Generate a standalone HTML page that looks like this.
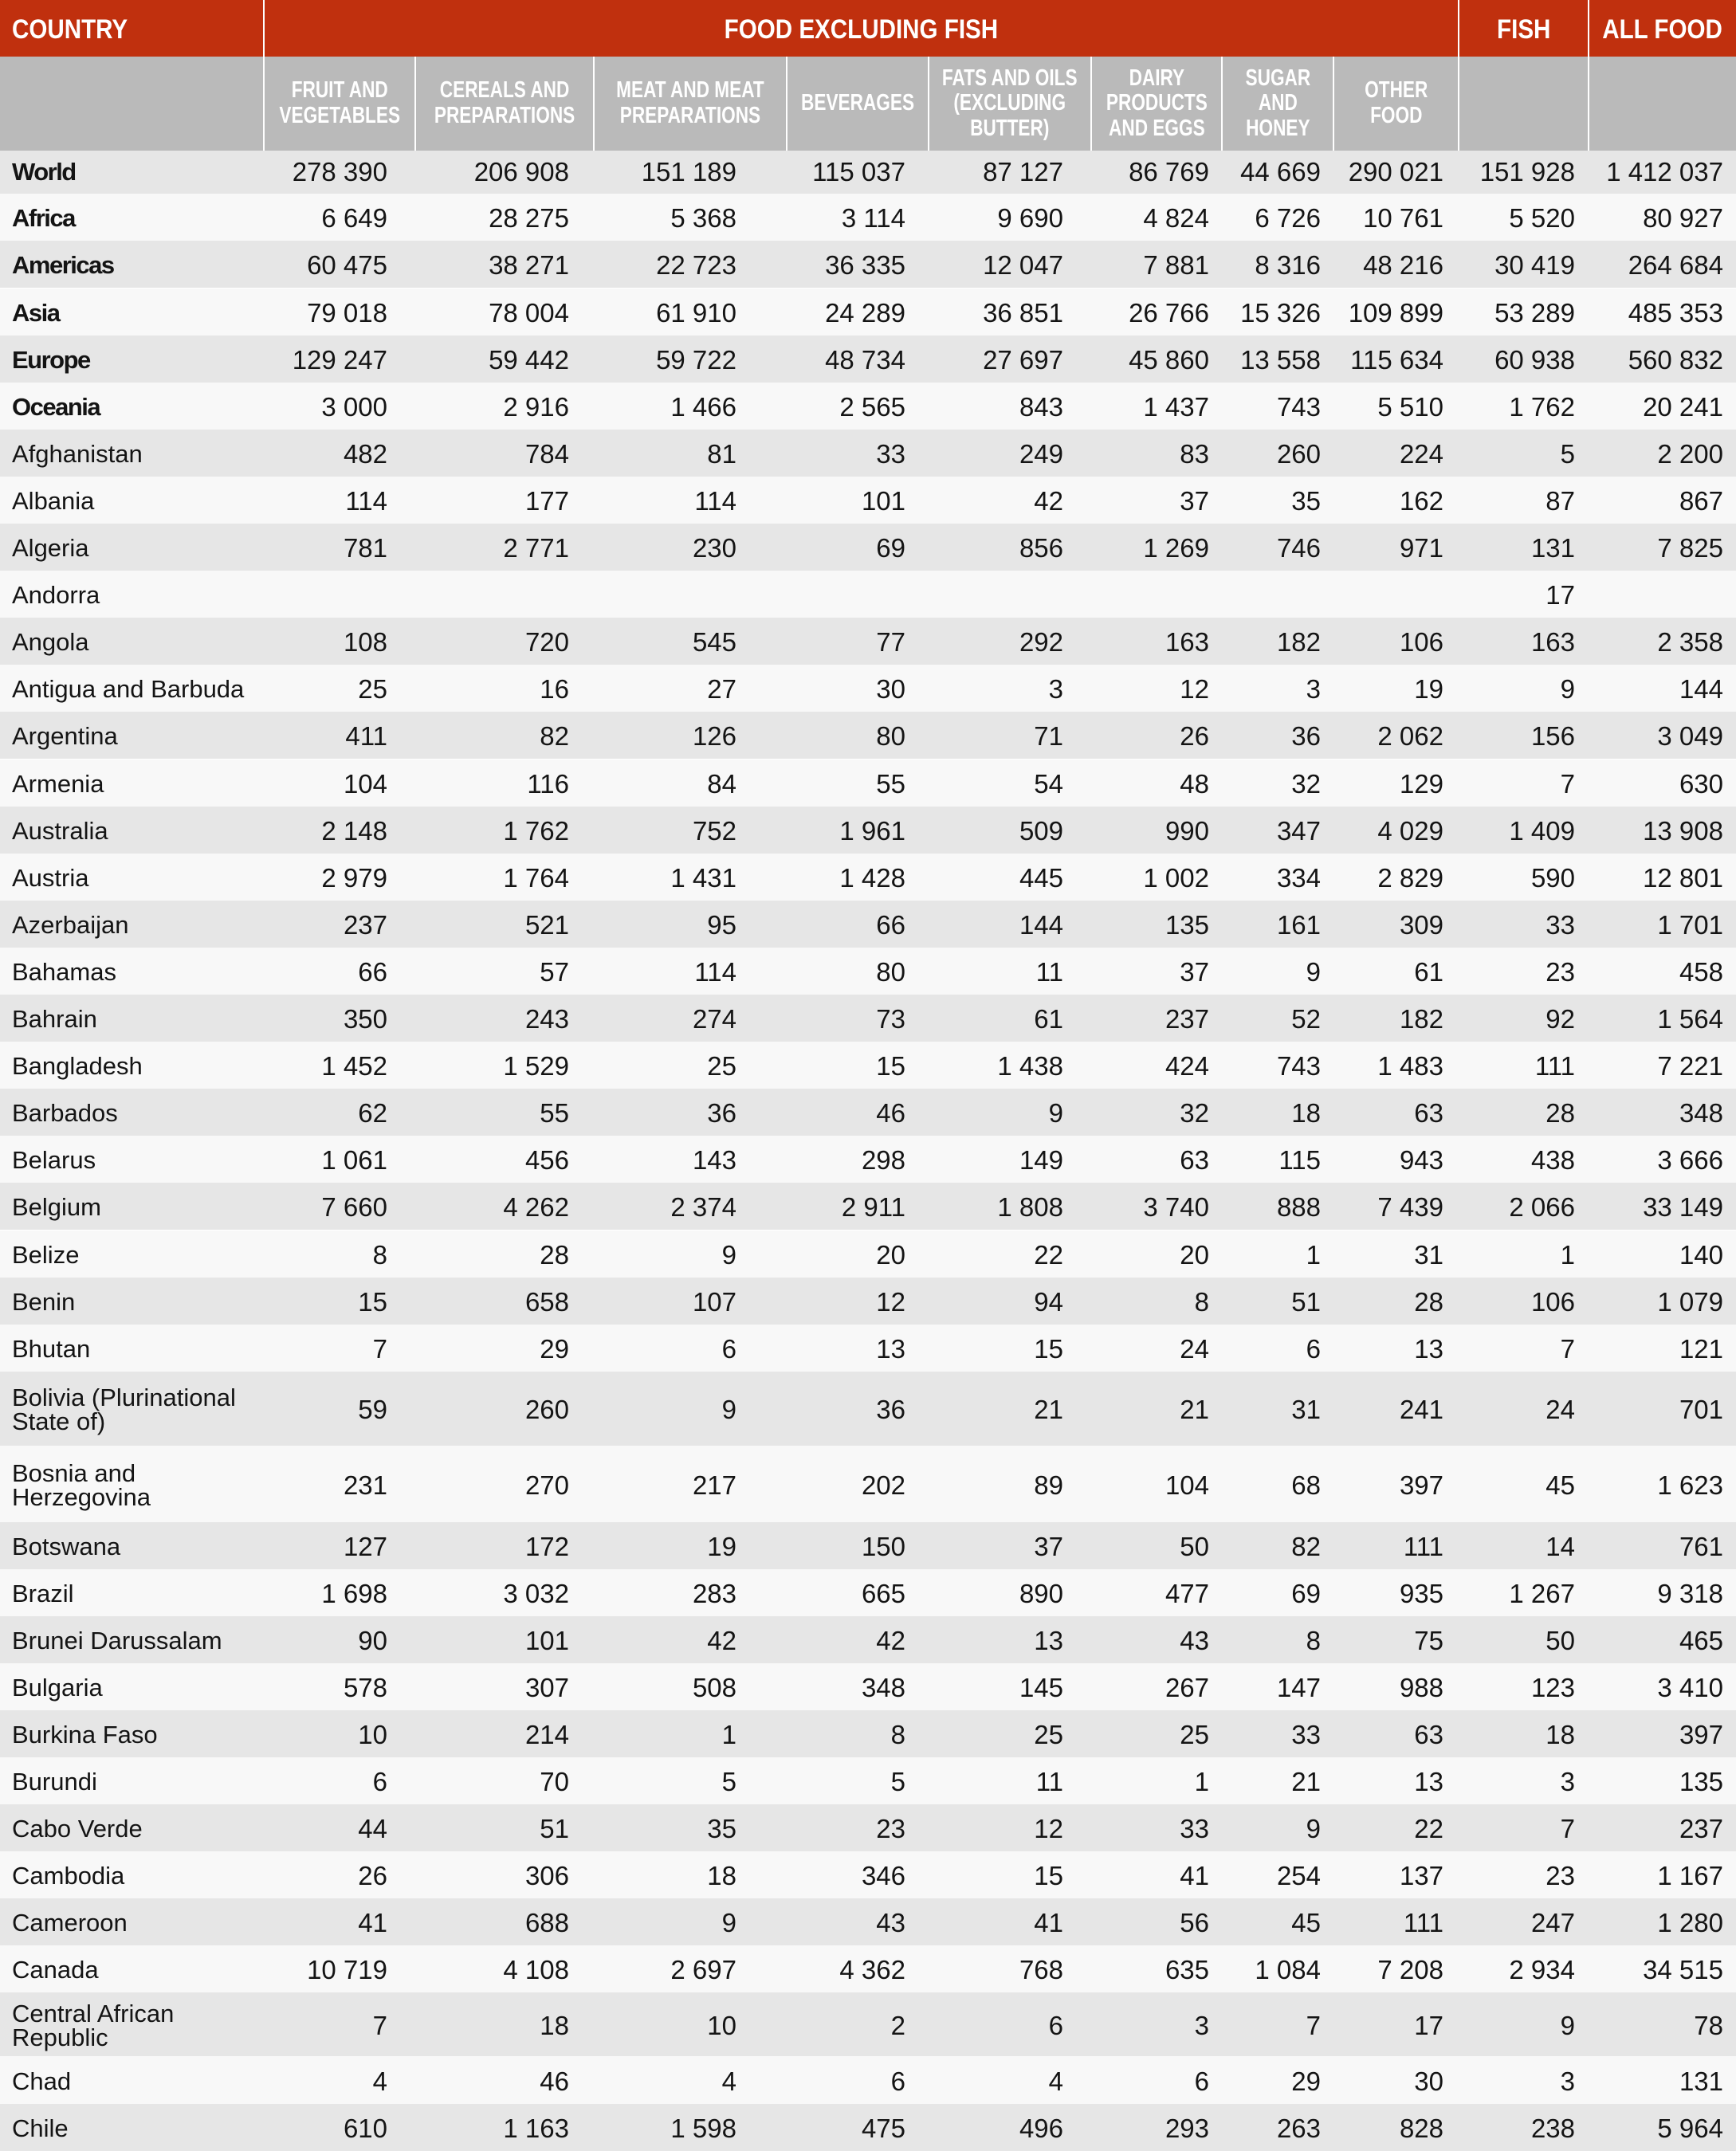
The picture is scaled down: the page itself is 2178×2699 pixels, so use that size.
<!DOCTYPE html>
<html>
<head>
<meta charset="utf-8">
<style>
html,body{margin:0;padding:0;background:#ffffff;}
body{width:2178px;height:2699px;position:relative;overflow:hidden;font-family:"Liberation Sans",sans-serif;color:#141414;}
.rh{position:absolute;top:0;height:71px;background:#c0300e;color:#fff;font-weight:bold;font-size:34px;display:flex;align-items:center;justify-content:center;white-space:nowrap;}
.rh span{display:inline-block;transform:scaleX(0.87);position:relative;top:2px;}
.gh{position:absolute;top:71px;height:117.5px;background:#bababa;color:#fff;font-weight:bold;font-size:29px;line-height:31.5px;display:flex;align-items:center;justify-content:center;text-align:center;white-space:nowrap;}
.gh span{display:inline-block;transform:scaleX(0.78);transform-origin:center;}
.r{position:absolute;left:0;width:2178px;}
.g{background:#e6e6e6;}
.w{background:#f8f8f8;}
.r div{position:absolute;top:0;height:100%;box-sizing:border-box;padding-top:3px;display:flex;align-items:center;font-size:33px;white-space:nowrap;}
.r .n{left:15px;font-size:31px;line-height:30px;}
.r .b{font-weight:bold;letter-spacing:-1.5px;}
.c1{right:1692px}.c2{right:1464px}.c3{right:1254px}.c4{right:1042px}.c5{right:844px}
.c6{right:661px}.c7{right:521px}.c8{right:367px}.c9{right:202px}.c10{right:16px}
</style>
</head>
<body>
<!-- Red header -->
<div class="rh" style="left:0;width:330px;justify-content:flex-start;"><span style="transform-origin:left;left:15px;">COUNTRY</span></div>
<div class="rh" style="left:332px;width:1497px;"><span>FOOD EXCLUDING FISH</span></div>
<div class="rh" style="left:1831px;width:161px;"><span>FISH</span></div>
<div class="rh" style="left:1994px;width:184px;"><span>ALL FOOD</span></div>
<!-- Gray header -->
<div class="gh" style="left:0;width:330px;"></div>
<div class="gh" style="left:332px;width:188px;"><span>FRUIT AND<br>VEGETABLES</span></div>
<div class="gh" style="left:522px;width:222px;"><span>CEREALS AND<br>PREPARATIONS</span></div>
<div class="gh" style="left:746px;width:240px;"><span>MEAT AND MEAT<br>PREPARATIONS</span></div>
<div class="gh" style="left:988px;width:176px;"><span>BEVERAGES</span></div>
<div class="gh" style="left:1166px;width:202px;"><span>FATS AND OILS<br>(EXCLUDING<br>BUTTER)</span></div>
<div class="gh" style="left:1370px;width:162px;"><span>DAIRY<br>PRODUCTS<br>AND EGGS</span></div>
<div class="gh" style="left:1534px;width:138px;"><span>SUGAR<br>AND<br>HONEY</span></div>
<div class="gh" style="left:1674px;width:155px;"><span>OTHER<br>FOOD</span></div>
<div class="gh" style="left:1831px;width:161px;"></div>
<div class="gh" style="left:1994px;width:184px;"></div>

<!-- Body rows -->
<div class="r g" style="top:188.5px;height:54.8px"><div class="n b" style="padding-top:0">World</div><div class="c1" style="padding-top:0">278 390</div><div class="c2" style="padding-top:0">206 908</div><div class="c3" style="padding-top:0">151 189</div><div class="c4" style="padding-top:0">115 037</div><div class="c5" style="padding-top:0">87 127</div><div class="c6" style="padding-top:0">86 769</div><div class="c7" style="padding-top:0">44 669</div><div class="c8" style="padding-top:0">290 021</div><div class="c9" style="padding-top:0">151 928</div><div class="c10" style="padding-top:0">1 412 037</div></div>
<div class="r w" style="top:243.3px;height:59.1px"><div class="n b">Africa</div><div class="c1">6 649</div><div class="c2">28 275</div><div class="c3">5 368</div><div class="c4">3 114</div><div class="c5">9 690</div><div class="c6">4 824</div><div class="c7">6 726</div><div class="c8">10 761</div><div class="c9">5 520</div><div class="c10">80 927</div></div>
<div class="r g" style="top:302.4px;height:59.1px"><div class="n b">Americas</div><div class="c1">60 475</div><div class="c2">38 271</div><div class="c3">22 723</div><div class="c4">36 335</div><div class="c5">12 047</div><div class="c6">7 881</div><div class="c7">8 316</div><div class="c8">48 216</div><div class="c9">30 419</div><div class="c10">264 684</div></div>
<div class="r w" style="top:361.5px;height:59.1px"><div class="n b">Asia</div><div class="c1">79 018</div><div class="c2">78 004</div><div class="c3">61 910</div><div class="c4">24 289</div><div class="c5">36 851</div><div class="c6">26 766</div><div class="c7">15 326</div><div class="c8">109 899</div><div class="c9">53 289</div><div class="c10">485 353</div></div>
<div class="r g" style="top:420.6px;height:59.1px"><div class="n b">Europe</div><div class="c1">129 247</div><div class="c2">59 442</div><div class="c3">59 722</div><div class="c4">48 734</div><div class="c5">27 697</div><div class="c6">45 860</div><div class="c7">13 558</div><div class="c8">115 634</div><div class="c9">60 938</div><div class="c10">560 832</div></div>
<div class="r w" style="top:479.7px;height:59.1px"><div class="n b">Oceania</div><div class="c1">3 000</div><div class="c2">2 916</div><div class="c3">1 466</div><div class="c4">2 565</div><div class="c5">843</div><div class="c6">1 437</div><div class="c7">743</div><div class="c8">5 510</div><div class="c9">1 762</div><div class="c10">20 241</div></div>
<div class="r g" style="top:538.8px;height:59.1px"><div class="n">Afghanistan</div><div class="c1">482</div><div class="c2">784</div><div class="c3">81</div><div class="c4">33</div><div class="c5">249</div><div class="c6">83</div><div class="c7">260</div><div class="c8">224</div><div class="c9">5</div><div class="c10">2 200</div></div>
<div class="r w" style="top:597.9px;height:59.1px"><div class="n">Albania</div><div class="c1">114</div><div class="c2">177</div><div class="c3">114</div><div class="c4">101</div><div class="c5">42</div><div class="c6">37</div><div class="c7">35</div><div class="c8">162</div><div class="c9">87</div><div class="c10">867</div></div>
<div class="r g" style="top:657px;height:59.1px"><div class="n">Algeria</div><div class="c1">781</div><div class="c2">2 771</div><div class="c3">230</div><div class="c4">69</div><div class="c5">856</div><div class="c6">1 269</div><div class="c7">746</div><div class="c8">971</div><div class="c9">131</div><div class="c10">7 825</div></div>
<div class="r w" style="top:716.1px;height:59.1px"><div class="n">Andorra</div><div class="c9">17</div></div>
<div class="r g" style="top:775.2px;height:59.1px"><div class="n">Angola</div><div class="c1">108</div><div class="c2">720</div><div class="c3">545</div><div class="c4">77</div><div class="c5">292</div><div class="c6">163</div><div class="c7">182</div><div class="c8">106</div><div class="c9">163</div><div class="c10">2 358</div></div>
<div class="r w" style="top:834.3px;height:59.1px"><div class="n">Antigua and Barbuda</div><div class="c1">25</div><div class="c2">16</div><div class="c3">27</div><div class="c4">30</div><div class="c5">3</div><div class="c6">12</div><div class="c7">3</div><div class="c8">19</div><div class="c9">9</div><div class="c10">144</div></div>
<div class="r g" style="top:893.4px;height:59.1px"><div class="n">Argentina</div><div class="c1">411</div><div class="c2">82</div><div class="c3">126</div><div class="c4">80</div><div class="c5">71</div><div class="c6">26</div><div class="c7">36</div><div class="c8">2 062</div><div class="c9">156</div><div class="c10">3 049</div></div>
<div class="r w" style="top:952.5px;height:59.1px"><div class="n">Armenia</div><div class="c1">104</div><div class="c2">116</div><div class="c3">84</div><div class="c4">55</div><div class="c5">54</div><div class="c6">48</div><div class="c7">32</div><div class="c8">129</div><div class="c9">7</div><div class="c10">630</div></div>
<div class="r g" style="top:1011.6px;height:59.1px"><div class="n">Australia</div><div class="c1">2 148</div><div class="c2">1 762</div><div class="c3">752</div><div class="c4">1 961</div><div class="c5">509</div><div class="c6">990</div><div class="c7">347</div><div class="c8">4 029</div><div class="c9">1 409</div><div class="c10">13 908</div></div>
<div class="r w" style="top:1070.7px;height:59.1px"><div class="n">Austria</div><div class="c1">2 979</div><div class="c2">1 764</div><div class="c3">1 431</div><div class="c4">1 428</div><div class="c5">445</div><div class="c6">1 002</div><div class="c7">334</div><div class="c8">2 829</div><div class="c9">590</div><div class="c10">12 801</div></div>
<div class="r g" style="top:1129.8px;height:59.1px"><div class="n">Azerbaijan</div><div class="c1">237</div><div class="c2">521</div><div class="c3">95</div><div class="c4">66</div><div class="c5">144</div><div class="c6">135</div><div class="c7">161</div><div class="c8">309</div><div class="c9">33</div><div class="c10">1 701</div></div>
<div class="r w" style="top:1188.9px;height:59.1px"><div class="n">Bahamas</div><div class="c1">66</div><div class="c2">57</div><div class="c3">114</div><div class="c4">80</div><div class="c5">11</div><div class="c6">37</div><div class="c7">9</div><div class="c8">61</div><div class="c9">23</div><div class="c10">458</div></div>
<div class="r g" style="top:1248px;height:59.1px"><div class="n">Bahrain</div><div class="c1">350</div><div class="c2">243</div><div class="c3">274</div><div class="c4">73</div><div class="c5">61</div><div class="c6">237</div><div class="c7">52</div><div class="c8">182</div><div class="c9">92</div><div class="c10">1 564</div></div>
<div class="r w" style="top:1307.1px;height:59.1px"><div class="n">Bangladesh</div><div class="c1">1 452</div><div class="c2">1 529</div><div class="c3">25</div><div class="c4">15</div><div class="c5">1 438</div><div class="c6">424</div><div class="c7">743</div><div class="c8">1 483</div><div class="c9">111</div><div class="c10">7 221</div></div>
<div class="r g" style="top:1366.2px;height:59.1px"><div class="n">Barbados</div><div class="c1">62</div><div class="c2">55</div><div class="c3">36</div><div class="c4">46</div><div class="c5">9</div><div class="c6">32</div><div class="c7">18</div><div class="c8">63</div><div class="c9">28</div><div class="c10">348</div></div>
<div class="r w" style="top:1425.3px;height:59.1px"><div class="n">Belarus</div><div class="c1">1 061</div><div class="c2">456</div><div class="c3">143</div><div class="c4">298</div><div class="c5">149</div><div class="c6">63</div><div class="c7">115</div><div class="c8">943</div><div class="c9">438</div><div class="c10">3 666</div></div>
<div class="r g" style="top:1484.4px;height:59.1px"><div class="n">Belgium</div><div class="c1">7 660</div><div class="c2">4 262</div><div class="c3">2 374</div><div class="c4">2 911</div><div class="c5">1 808</div><div class="c6">3 740</div><div class="c7">888</div><div class="c8">7 439</div><div class="c9">2 066</div><div class="c10">33 149</div></div>
<div class="r w" style="top:1543.5px;height:59.1px"><div class="n">Belize</div><div class="c1">8</div><div class="c2">28</div><div class="c3">9</div><div class="c4">20</div><div class="c5">22</div><div class="c6">20</div><div class="c7">1</div><div class="c8">31</div><div class="c9">1</div><div class="c10">140</div></div>
<div class="r g" style="top:1602.6px;height:59.1px"><div class="n">Benin</div><div class="c1">15</div><div class="c2">658</div><div class="c3">107</div><div class="c4">12</div><div class="c5">94</div><div class="c6">8</div><div class="c7">51</div><div class="c8">28</div><div class="c9">106</div><div class="c10">1 079</div></div>
<div class="r w" style="top:1661.7px;height:59.3px"><div class="n">Bhutan</div><div class="c1">7</div><div class="c2">29</div><div class="c3">6</div><div class="c4">13</div><div class="c5">15</div><div class="c6">24</div><div class="c7">6</div><div class="c8">13</div><div class="c9">7</div><div class="c10">121</div></div>
<div class="r g" style="top:1721px;height:93px"><div class="n">Bolivia (Plurinational<br>State of)</div><div class="c1">59</div><div class="c2">260</div><div class="c3">9</div><div class="c4">36</div><div class="c5">21</div><div class="c6">21</div><div class="c7">31</div><div class="c8">241</div><div class="c9">24</div><div class="c10">701</div></div>
<div class="r w" style="top:1814px;height:96px"><div class="n">Bosnia and<br>Herzegovina</div><div class="c1">231</div><div class="c2">270</div><div class="c3">217</div><div class="c4">202</div><div class="c5">89</div><div class="c6">104</div><div class="c7">68</div><div class="c8">397</div><div class="c9">45</div><div class="c10">1 623</div></div>
<div class="r g" style="top:1910px;height:59px"><div class="n">Botswana</div><div class="c1">127</div><div class="c2">172</div><div class="c3">19</div><div class="c4">150</div><div class="c5">37</div><div class="c6">50</div><div class="c7">82</div><div class="c8">111</div><div class="c9">14</div><div class="c10">761</div></div>
<div class="r w" style="top:1969px;height:59px"><div class="n">Brazil</div><div class="c1">1 698</div><div class="c2">3 032</div><div class="c3">283</div><div class="c4">665</div><div class="c5">890</div><div class="c6">477</div><div class="c7">69</div><div class="c8">935</div><div class="c9">1 267</div><div class="c10">9 318</div></div>
<div class="r g" style="top:2028px;height:59px"><div class="n">Brunei Darussalam</div><div class="c1">90</div><div class="c2">101</div><div class="c3">42</div><div class="c4">42</div><div class="c5">13</div><div class="c6">43</div><div class="c7">8</div><div class="c8">75</div><div class="c9">50</div><div class="c10">465</div></div>
<div class="r w" style="top:2087px;height:59px"><div class="n">Bulgaria</div><div class="c1">578</div><div class="c2">307</div><div class="c3">508</div><div class="c4">348</div><div class="c5">145</div><div class="c6">267</div><div class="c7">147</div><div class="c8">988</div><div class="c9">123</div><div class="c10">3 410</div></div>
<div class="r g" style="top:2146px;height:59px"><div class="n">Burkina Faso</div><div class="c1">10</div><div class="c2">214</div><div class="c3">1</div><div class="c4">8</div><div class="c5">25</div><div class="c6">25</div><div class="c7">33</div><div class="c8">63</div><div class="c9">18</div><div class="c10">397</div></div>
<div class="r w" style="top:2205px;height:59px"><div class="n">Burundi</div><div class="c1">6</div><div class="c2">70</div><div class="c3">5</div><div class="c4">5</div><div class="c5">11</div><div class="c6">1</div><div class="c7">21</div><div class="c8">13</div><div class="c9">3</div><div class="c10">135</div></div>
<div class="r g" style="top:2264px;height:59px"><div class="n">Cabo Verde</div><div class="c1">44</div><div class="c2">51</div><div class="c3">35</div><div class="c4">23</div><div class="c5">12</div><div class="c6">33</div><div class="c7">9</div><div class="c8">22</div><div class="c9">7</div><div class="c10">237</div></div>
<div class="r w" style="top:2323px;height:59px"><div class="n">Cambodia</div><div class="c1">26</div><div class="c2">306</div><div class="c3">18</div><div class="c4">346</div><div class="c5">15</div><div class="c6">41</div><div class="c7">254</div><div class="c8">137</div><div class="c9">23</div><div class="c10">1 167</div></div>
<div class="r g" style="top:2382px;height:59px"><div class="n">Cameroon</div><div class="c1">41</div><div class="c2">688</div><div class="c3">9</div><div class="c4">43</div><div class="c5">41</div><div class="c6">56</div><div class="c7">45</div><div class="c8">111</div><div class="c9">247</div><div class="c10">1 280</div></div>
<div class="r w" style="top:2441px;height:59px"><div class="n">Canada</div><div class="c1">10 719</div><div class="c2">4 108</div><div class="c3">2 697</div><div class="c4">4 362</div><div class="c5">768</div><div class="c6">635</div><div class="c7">1 084</div><div class="c8">7 208</div><div class="c9">2 934</div><div class="c10">34 515</div></div>
<div class="r g" style="top:2500px;height:80px"><div class="n">Central African<br>Republic</div><div class="c1">7</div><div class="c2">18</div><div class="c3">10</div><div class="c4">2</div><div class="c5">6</div><div class="c6">3</div><div class="c7">7</div><div class="c8">17</div><div class="c9">9</div><div class="c10">78</div></div>
<div class="r w" style="top:2580px;height:60px"><div class="n">Chad</div><div class="c1">4</div><div class="c2">46</div><div class="c3">4</div><div class="c4">6</div><div class="c5">4</div><div class="c6">6</div><div class="c7">29</div><div class="c8">30</div><div class="c9">3</div><div class="c10">131</div></div>
<div class="r g" style="top:2640px;height:59px"><div class="n">Chile</div><div class="c1">610</div><div class="c2">1 163</div><div class="c3">1 598</div><div class="c4">475</div><div class="c5">496</div><div class="c6">293</div><div class="c7">263</div><div class="c8">828</div><div class="c9">238</div><div class="c10">5 964</div></div>
</body>
</html>
